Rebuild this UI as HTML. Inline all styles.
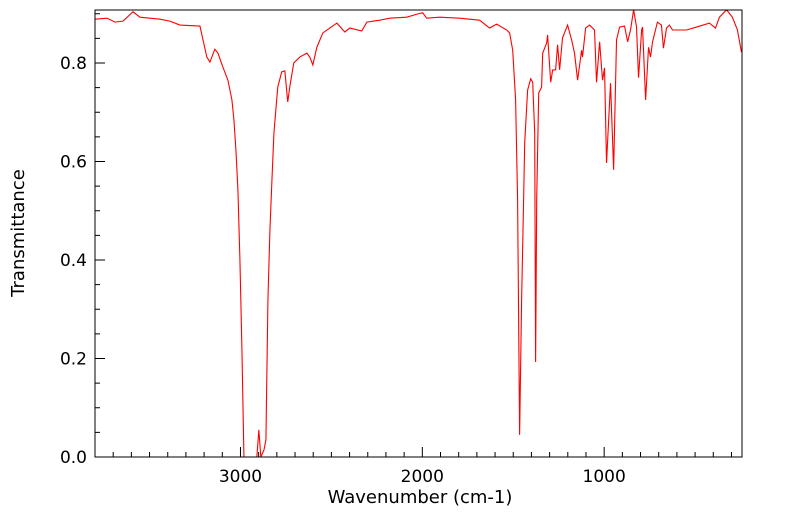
<!DOCTYPE html>
<html><head><meta charset="utf-8"><style>
html,body{margin:0;padding:0;background:#fff;}
svg{display:block;font-family:"DejaVu Sans","Liberation Sans",sans-serif;}
</style></head><body>
<svg id="chart" width="799" height="516"></svg>
<script>
const wavenumbers=[3800,3734,3690,3646,3591,3553,3443,3388,3333,3223,3185,3168,3141,3124,3097,3069,3047,3036,3025,3014,3003,2992,2981,2976,2910,2899,2888,2871,2860,2849,2838,2827,2816,2795,2773,2756,2740,2729,2707,2674,2635,2619,2602,2580,2547,2470,2426,2399,2333,2305,2234,2179,2086,2031,1998,1976,1904,1794,1685,1630,1591,1536,1520,1503,1487,1476,1465,1454,1443,1437,1421,1404,1393,1382,1377,1371,1360,1344,1338,1316,1311,1294,1283,1267,1256,1245,1229,1201,1179,1163,1146,1124,1119,1102,1080,1053,1042,1025,1009,998,987,965,948,932,915,888,871,855,838,822,811,794,789,772,756,745,734,707,685,674,657,641,624,547,492,421,388,366,327,295,267,245];
const transmittance=[0.889,0.891,0.883,0.885,0.904,0.893,0.889,0.885,0.877,0.875,0.812,0.802,0.828,0.820,0.792,0.765,0.725,0.684,0.623,0.542,0.400,0.217,0.0,0.0,0.0,0.055,0.0,0.014,0.035,0.319,0.461,0.562,0.658,0.751,0.782,0.784,0.721,0.751,0.800,0.812,0.820,0.812,0.796,0.832,0.861,0.881,0.863,0.871,0.865,0.883,0.887,0.891,0.893,0.899,0.902,0.891,0.893,0.891,0.887,0.871,0.879,0.867,0.861,0.826,0.725,0.522,0.045,0.319,0.522,0.638,0.745,0.768,0.761,0.658,0.193,0.522,0.739,0.751,0.820,0.841,0.857,0.761,0.786,0.786,0.837,0.786,0.851,0.877,0.847,0.820,0.765,0.826,0.812,0.871,0.877,0.867,0.761,0.843,0.765,0.790,0.597,0.759,0.583,0.847,0.873,0.875,0.843,0.867,0.908,0.873,0.770,0.867,0.873,0.725,0.832,0.812,0.843,0.883,0.877,0.830,0.871,0.877,0.867,0.867,0.873,0.881,0.871,0.893,0.908,0.893,0.867,0.822];
const xMajorTicks=[3000,2000,1000];
const yMajorTicks=[0.0,0.2,0.4,0.6,0.8];
const NS='http://www.w3.org/2000/svg';
const L=95,R=742,T=10,B=457;
const xMin=3800,xMax=242,yMin=0,yMax=0.9076;
const xs=v=>L+(xMin-v)/(xMin-xMax)*(R-L);
const ys=v=>B-(v-yMin)/(yMax-yMin)*(B-T);
const svg=document.getElementById('chart');
function mk(tag,attrs){const e=document.createElementNS(NS,tag);for(const k in attrs)e.setAttribute(k,attrs[k]);svg.appendChild(e);return e;}
const defs=mk('defs',{});
const cp=document.createElementNS(NS,'clipPath');cp.setAttribute('id','clip');
const cr=document.createElementNS(NS,'rect');cr.setAttribute('x',L);cr.setAttribute('y',T);cr.setAttribute('width',R-L);cr.setAttribute('height',B-T);
cp.appendChild(cr);defs.appendChild(cp);
let d='';
wavenumbers.forEach((w,i)=>{d+=(i?'L':'M')+xs(w).toFixed(2)+','+ys(transmittance[i]).toFixed(2);});
const path=mk('path',{d:d,fill:'none',stroke:'#ff0000','stroke-width':1.1,'clip-path':'url(#clip)'});


const frame=mk('rect',{x:L,y:T,width:R-L,height:B-T,fill:'none',stroke:'#000','stroke-width':1});


for(let w=3800;w>=300;w-=100){
  const x=xs(w);const major=w%1000===0;
  const t=mk('line',{x1:x,x2:x,y1:B,y2:B-(major?10:5),stroke:'#000','stroke-width':1});
  
  
}
xMajorTicks.forEach(w=>{
  const t=mk('text',{x:xs(w),y:B+25,'font-size':17,'text-anchor':'middle',fill:'#000'});
  t.textContent=String(w);
  
  
});
for(let k=0;k<=18;k++){
  const v=k*0.05;if(v>yMax)break;const y=ys(v);const major=k%4===0;
  const t=mk('line',{x1:L,x2:L+(major?10:5),y1:y,y2:y,stroke:'#000','stroke-width':1});
  
  
}
yMajorTicks.forEach(v=>{
  const t=mk('text',{x:L-8,y:ys(v)+6,'font-size':17,'text-anchor':'end',fill:'#000'});
  t.textContent=v.toFixed(1);
  
  
});
const xt=mk('text',{x:420,y:503,'font-size':18,'text-anchor':'middle',fill:'#000'});
xt.textContent='Wavenumber (cm-1)';


const yt=mk('text',{x:24,y:233,'font-size':18,'text-anchor':'middle',fill:'#000',transform:'rotate(-90 24 233)'});
yt.textContent='Transmittance';


</script>
</body></html>
